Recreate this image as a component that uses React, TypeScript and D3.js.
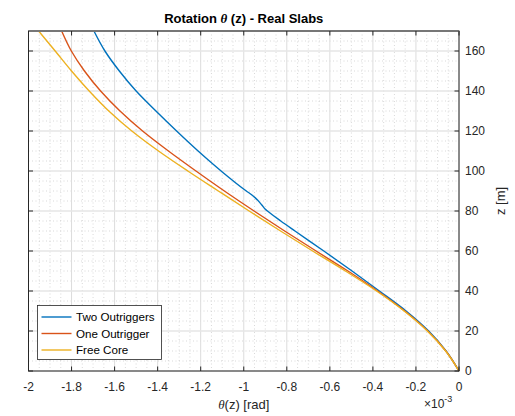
import React from "react";
import * as d3 from "d3";

const xTicks = [-2, -1.8, -1.6, -1.4, -1.2, -1, -0.8, -0.6, -0.4, -0.2, 0];
const yTicks = [0, 20, 40, 60, 80, 100, 120, 140, 160];

const zTwo = [0, 10, 20, 30, 40, 50, 60, 70, 75, 80, 81, 83, 85.5, 88, 90, 100, 110, 120, 130, 140, 150, 160, 170];
const thetaTwo = [0, -0.06, -0.141, -0.246, -0.37, -0.497, -0.628, -0.762, -0.828, -0.89, -0.901, -0.916, -0.936, -0.962, -0.988, -1.105, -1.212, -1.312, -1.408, -1.5, -1.578, -1.645, -1.696];

const zOne = [0, 10, 20, 30, 40, 50, 60, 70, 80, 90, 100, 110, 120, 130, 140, 150, 160, 170];
const thetaOne = [0, -0.061, -0.145, -0.252, -0.378, -0.516, -0.664, -0.81, -0.952, -1.09, -1.222, -1.35, -1.47, -1.575, -1.665, -1.74, -1.801, -1.846];

const zFree = [0, 10, 20, 30, 40, 50, 60, 70, 80, 90, 100, 110, 120, 130, 140, 150, 160, 170];
const thetaFree = [0, -0.062, -0.147, -0.255, -0.383, -0.528, -0.68, -0.829, -0.975, -1.118, -1.26, -1.396, -1.52, -1.627, -1.718, -1.8, -1.876, -1.953];

const seriesNames = ["Two Outriggers", "One Outrigger", "Free Core"];
const seriesColors = ["#0072BD", "#D95319", "#EDB120"];

const W = 515, H = 416;
const L = 28.5, R = 459, T = 31, B = 371;
const axisColor = "#262626";
const font = "Arial, 'Liberation Sans', Helvetica, sans-serif";

export default function App() {
  const x = d3.scaleLinear().domain([-2, 0]).range([L, R]);
  const y = d3.scaleLinear().domain([0, 170]).range([B, T]);

  const series = [
    { z: zTwo, t: thetaTwo },
    { z: zOne, t: thetaOne },
    { z: zFree, t: thetaFree },
  ];
  const line = d3
    .line<[number, number]>()
    .x((d) => x(d[0]))
    .y((d) => y(d[1]))
    .curve(d3.curveMonotoneY);

  const minorX = d3.range(-2, 0.0001, 0.05).filter((v) => Math.abs(v * 5 - Math.round(v * 5)) > 1e-6);
  const minorY = d3.range(0, 170.01, 5).filter((v) => v % 20 !== 0);

  return (
    <svg width={W} height={H} style={{ position: "fixed", left: 0, top: 0, background: "#fff" }} fontFamily={font}>
      <rect x={0} y={0} width={W} height={H} fill="#fff" />
      {minorX.map((v, i) => (
        <line key={"mx" + i} x1={x(v)} x2={x(v)} y1={T} y2={B} stroke="#cfcfcf" strokeWidth={0.8} strokeDasharray="1,2.5" />
      ))}
      {minorY.map((v, i) => (
        <line key={"my" + i} x1={L} x2={R} y1={y(v)} y2={y(v)} stroke="#cfcfcf" strokeWidth={0.8} strokeDasharray="1,2.5" />
      ))}
      {xTicks.map((v, i) => (
        <line key={"gx" + i} x1={x(v)} x2={x(v)} y1={T} y2={B} stroke="#dcdcdc" strokeWidth={1} />
      ))}
      {yTicks.map((v, i) => (
        <line key={"gy" + i} x1={L} x2={R} y1={y(v)} y2={y(v)} stroke="#e6e6e6" strokeWidth={1.3} />
      ))}
      {series.map((s, i) => (
        <path
          key={"s" + i}
          d={line(s.z.map((z, j) => [s.t[j], z] as [number, number])) || ""}
          fill="none"
          stroke={seriesColors[i]}
          strokeWidth={1.4}
        />
      ))}
      <rect x={L} y={T} width={R - L} height={B - T} fill="none" stroke={axisColor} strokeWidth={1} />
      <line x1={L} x2={R} y1={T} y2={T} stroke="#777" strokeWidth={2} />
      {xTicks.map((v, i) => (
        <g key={"tx" + i}>
          <line x1={x(v)} x2={x(v)} y1={B} y2={B - 4.5} stroke={axisColor} />
          <line x1={x(v)} x2={x(v)} y1={T} y2={T + 4.5} stroke={axisColor} />
          <text x={x(v)} y={391} textAnchor="middle" fontSize={12} fill={axisColor}>
            {String(v)}
          </text>
        </g>
      ))}
      {yTicks.map((v, i) => (
        <g key={"ty" + i}>
          <line x1={R} x2={R - 4.5} y1={y(v)} y2={y(v)} stroke={axisColor} />
          <line x1={L} x2={L + 4.5} y1={y(v)} y2={y(v)} stroke={axisColor} />
          <text x={465} y={y(v) + 4.3} textAnchor="start" fontSize={12} fill={axisColor}>
            {String(v)}
          </text>
        </g>
      ))}
      <text x={(L + R) / 2} y={23} textAnchor="middle" fontSize={13} fontWeight="bold" fill="#000">
        Rotation <tspan fontFamily="'Times New Roman', 'Liberation Serif', serif" fontStyle="italic">θ</tspan> (z) - Real Slabs
      </text>
      <text x={(L + R) / 2} y={409} textAnchor="middle" fontSize={13} fill={axisColor}>
        <tspan fontFamily="'Times New Roman', 'Liberation Serif', serif" fontStyle="italic">θ</tspan>(z) [rad]
      </text>
      <text x={424} y={408} fontSize={12} fill={axisColor}>
        ×10<tspan dy={-6} fontSize={9}>-3</tspan>
      </text>
      <text transform={`translate(505, ${(T + B) / 2}) rotate(-90)`} textAnchor="middle" fontSize={13} fill={axisColor}>
        z [m]
      </text>
      <rect x={37.5} y={305.5} width={124} height={54} fill="#fff" stroke={axisColor} strokeWidth={0.8} />
      {seriesNames.map((n, i) => (
        <g key={"lg" + i}>
          <line x1={41.5} x2={71.5} y1={317 + i * 16.5} y2={317 + i * 16.5} stroke={seriesColors[i]} strokeWidth={1.4} />
          <text x={76} y={317 + i * 16.5 + 4.2} fontSize={11.6} fill="#000">
            {n}
          </text>
        </g>
      ))}
    </svg>
  );
}
